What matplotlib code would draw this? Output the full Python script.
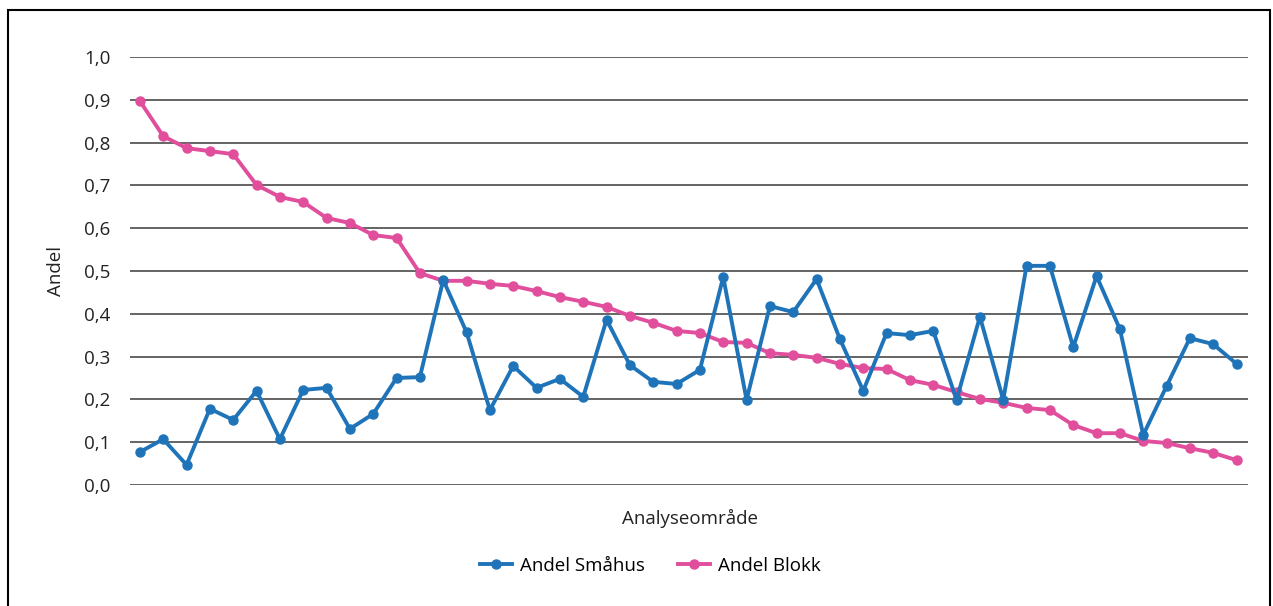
import numpy as np
import matplotlib.pyplot as plt
from matplotlib.patches import Rectangle

plt.rcParams['font.family'] = ['Open Sans', 'DejaVu Sans']

# Andeler per analyseområde (lest av figuren)
andel_smahus = [0.077, 0.107, 0.047, 0.178, 0.152, 0.220, 0.107, 0.222, 0.227, 0.131,
                0.166, 0.250, 0.252, 0.479, 0.357, 0.175, 0.278, 0.227, 0.248, 0.206,
                0.386, 0.280, 0.241, 0.236, 0.269, 0.486, 0.199, 0.418, 0.404, 0.481,
                0.341, 0.220, 0.355, 0.350, 0.360, 0.199, 0.393, 0.199, 0.512, 0.512,
                0.322, 0.488, 0.364, 0.117, 0.231, 0.343, 0.329, 0.283]
andel_blokk = [0.897, 0.815, 0.787, 0.780, 0.773, 0.701, 0.673, 0.661, 0.624, 0.612,
               0.584, 0.577, 0.495, 0.477, 0.477, 0.470, 0.465, 0.453, 0.439, 0.428,
               0.416, 0.395, 0.379, 0.360, 0.355, 0.334, 0.332, 0.308, 0.304, 0.297,
               0.283, 0.273, 0.271, 0.245, 0.234, 0.217, 0.201, 0.192, 0.180, 0.175,
               0.140, 0.121, 0.121, 0.103, 0.098, 0.086, 0.075, 0.058]
y_ticks = [0.0, 0.1, 0.2, 0.3, 0.4, 0.5, 0.6, 0.7, 0.8, 0.9, 1.0]

x = np.arange(len(andel_smahus))

fig = plt.figure(figsize=(12.73, 6.06), dpi=100)
ax = fig.add_axes([0.102, 0.1997, 0.878, 0.7063])

for yt in y_ticks:
    ax.axhline(yt, color='#4a4a4a', lw=1.2, zorder=1)

ax.plot(x, andel_smahus, '-o', color='#1f74b9', lw=2.8, ms=6.5, label='Andel Småhus', zorder=3)
ax.plot(x, andel_blokk, '-o', color='#e04e9c', lw=2.8, ms=6.5, label='Andel Blokk', zorder=2)

ax.set_xlim(-0.43, len(x) - 1 + 0.47)
ax.set_ylim(0, 1.0)
ax.set_yticks(y_ticks)
ax.set_yticklabels([f'{v:.1f}'.replace('.', ',') for v in y_ticks], fontsize=13.5, color='#222222')
ax.set_xticks([])
ax.tick_params(axis='y', length=0, pad=14)
for s in ax.spines.values():
    s.set_visible(False)

ax.set_ylabel('Andel', fontsize=13.5, color='#222222', labelpad=14)
fig.text(0.542, 0.145, 'Analyseområde', fontsize=13.5, color='#222222', ha='center', va='center')

fig.legend(loc='center', bbox_to_anchor=(0.511, 0.066), ncol=2, frameon=False, fontsize=13.5,
           handlelength=1.7, columnspacing=1.75, handletextpad=0.43)

fig.patches.append(Rectangle((8 / 1273, -0.1), (1270 - 8) / 1273, 1.1 - 10 / 606,
                             transform=fig.transFigure, fill=False, edgecolor='black', lw=1.5))

fig.savefig('out.png', dpi=100)
